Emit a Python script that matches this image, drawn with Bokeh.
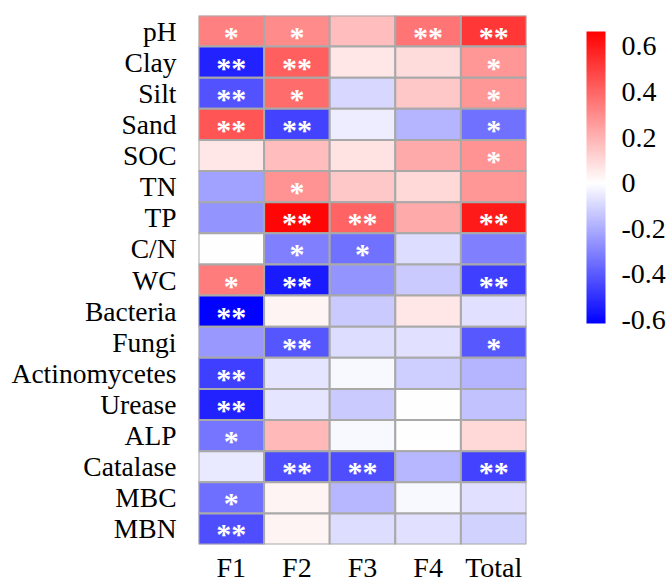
from bokeh.plotting import figure
from bokeh.models import ColumnDataSource, LinearColorMapper, ColorBar, FixedTicker, CustomJSTickFormatter
from bokeh.core.properties import value
from bokeh.embed import file_html
from bokeh.resources import INLINE

factors = ["F1", "F2", "F3", "F4", "Total"]
variables = ["pH", "Clay", "Silt", "Sand", "SOC", "TN", "TP", "C/N", "WC", "Bacteria",
             "Fungi", "Actinomycetes", "Urease", "ALP", "Catalase", "MBC", "MBN"]

# correlation coefficients, one list per column
F1 = [0.33, -0.53, -0.42, 0.44, 0.06, -0.23, -0.26, 0.0, 0.34, -0.62,
      -0.25, -0.46, -0.53, -0.33, -0.05, -0.35, -0.43]
F2 = [0.30, 0.42, 0.38, -0.45, 0.17, 0.28, 0.65, -0.31, -0.55, 0.025,
      -0.41, -0.06, -0.06, 0.18, -0.43, 0.025, 0.025]
F3 = [0.17, 0.06, -0.10, -0.04, 0.07, 0.14, 0.41, -0.34, -0.26, -0.13,
      -0.085, -0.02, -0.13, -0.02, -0.43, -0.17, -0.085]
F4 = [0.36, 0.09, 0.14, -0.18, 0.22, 0.10, 0.22, -0.085, -0.13, 0.06,
      -0.07, -0.12, 0.0, 0.0, -0.17, -0.02, -0.07]
Total = [0.52, 0.27, 0.27, -0.34, 0.28, 0.27, 0.60, -0.31, -0.46, -0.07,
         -0.40, -0.18, -0.15, 0.10, -0.45, -0.07, -0.11]

# significance marks
sig_F1 = ["*", "**", "**", "**", "", "", "", "", "*", "**", "", "**", "**", "*", "", "*", "**"]
sig_F2 = ["*", "**", "*", "**", "", "*", "**", "*", "**", "", "**", "", "", "", "**", "", ""]
sig_F3 = ["", "", "", "", "", "", "**", "*", "", "", "", "", "", "", "**", "", ""]
sig_F4 = ["**", "", "", "", "", "", "", "", "", "", "", "", "", "", "", "", ""]
sig_Total = ["**", "*", "*", "*", "*", "", "**", "", "**", "", "*", "", "", "", "**", "", ""]

cbar_ticks = [-0.6, -0.4, -0.2, 0, 0.2, 0.4, 0.6]

LOW, HIGH = -0.615, 0.665
N = 256
palette = []
for i in range(N):
    v = LOW + (HIGH - LOW) * (i + 0.5) / N
    if v < 0:
        t = min(1.0, -v / -LOW)
        c = int(round(255 * (1 - t)))
        palette.append("#%02x%02x%02x" % (c, c, 255))
    else:
        t = min(1.0, v / HIGH)
        c = int(round(255 * (1 - t)))
        palette.append("#%02x%02x%02x" % (255, c, c))

mapper = LinearColorMapper(palette=palette, low=LOW, high=HIGH)

cols = {"F1": (F1, sig_F1), "F2": (F2, sig_F2), "F3": (F3, sig_F3), "F4": (F4, sig_F4), "Total": (Total, sig_Total)}
xs, ys, vals, sigs = [], [], [], []
for f in factors:
    vv, ss = cols[f]
    for var, v, s in zip(variables, vv, ss):
        xs.append(f)
        ys.append(var)
        vals.append(v)
        sigs.append(s)
src = ColumnDataSource(dict(x=xs, y=ys, v=vals, s=sigs))

FONT = "'Liberation Serif', 'Times New Roman', serif"

p = figure(width=671, height=585, x_range=factors, y_range=list(reversed(variables)),
           output_backend="svg", toolbar_location=None,
           min_border_left=198, min_border_right=145, min_border_top=15, min_border_bottom=39)
p.x_range.range_padding = 0
p.y_range.range_padding = 0

p.rect(x="x", y="y", width=1, height=1, source=src,
       fill_color={"field": "v", "transform": mapper},
       line_color="#a9a9a9", line_width=2)
p.text(x="x", y="y", text="s", source=src, text_color="white",
       text_font=value(FONT), text_font_size="30px", text_font_style="bold",
       text_align="center", text_baseline="middle", y_offset=5)

p.outline_line_color = None
p.grid.visible = False
for ax in (p.xaxis, p.yaxis):
    ax.axis_line_color = None
    ax.major_tick_line_color = None
    ax.minor_tick_line_color = None
    ax.major_label_text_font = FONT
    ax.major_label_text_font_size = "27.5px"
    ax.major_label_text_color = "black"
p.xaxis.major_label_text_font_size = "28px"
p.xaxis.major_label_standoff = 1
p.yaxis.major_label_standoff = 16

cb = ColorBar(color_mapper=mapper, ticker=FixedTicker(ticks=cbar_ticks),
              formatter=CustomJSTickFormatter(code="return tick == 0 ? '0' : tick.toFixed(1);"),
              width=19, height=292, location=(60, 221),
              major_label_text_font=FONT, major_label_text_font_size="28px",
              major_label_text_color="black",
              major_tick_line_color=None, minor_tick_line_color=None,
              bar_line_color=None, border_line_color=None, background_fill_color=None,
              padding=0, margin=0, label_standoff=16)
p.add_layout(cb, "right")

open("out.html", "w").write(file_html(p, INLINE))
